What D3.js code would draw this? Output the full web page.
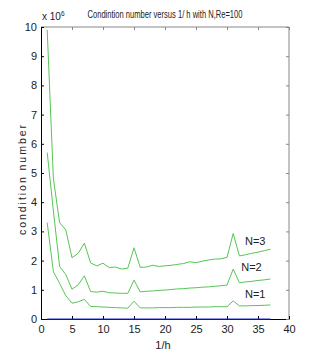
<!DOCTYPE html>
<html><head><meta charset="utf-8">
<script src="https://cdn.jsdelivr.net/npm/d3@7"></script>
<style>body{margin:0;background:#fff}svg{display:block}text{font-family:"Liberation Sans Narrow","Liberation Sans",Arial,sans-serif;fill:#222}</style>
</head><body>
<script>
const xs = d3.range(1, 38);
const n3 = [9.9,4.8,3.3,3.05,2.1,2.25,2.6,1.92,1.82,1.91,1.76,1.78,1.71,1.74,2.44,1.77,1.78,1.84,1.8,1.82,1.84,1.87,1.9,1.96,1.93,1.98,2.02,2.05,2.06,2.11,2.93,2.16,2.2,2.25,2.29,2.34,2.39];
const n2 = [5.7,3.7,1.8,1.52,1.02,1.17,1.48,0.94,0.92,0.95,0.9,0.89,0.88,0.88,1.33,0.93,0.95,0.96,0.98,0.99,1.01,1.03,1.04,1.06,1.07,1.09,1.1,1.12,1.14,1.16,1.71,1.24,1.27,1.29,1.32,1.34,1.37];
const n1 = [3.3,1.62,1.22,0.8,0.54,0.59,0.67,0.43,0.42,0.41,0.4,0.39,0.38,0.37,0.61,0.38,0.38,0.38,0.39,0.39,0.39,0.4,0.4,0.4,0.41,0.41,0.41,0.42,0.42,0.42,0.62,0.45,0.45,0.46,0.46,0.47,0.48];
const series = [{name:"N=3", v:n3}, {name:"N=2", v:n2}, {name:"N=1", v:n1}];
const xTicks = d3.range(0, 41, 5);
const yTicks = d3.range(0, 11, 1);
const title = "Condintion number versus 1/ h with N,Re=100";

const W = 319, H = 360;
const m = {l:41, r:30, t:27, b:41};
const FF = '"Liberation Sans Narrow","Liberation Sans",Arial,sans-serif';
const svg = d3.select("body").append("svg").attr("width", W).attr("height", H);
const x = d3.scaleLinear().domain([0, 40]).range([m.l, W - m.r]);
const y = d3.scaleLinear().domain([0, 10]).range([H - m.b, m.t]);

const g = svg.append("g");
g.append("line").attr("x1", x(0)).attr("x2", x(40)).attr("y1", y(10)).attr("y2", y(10)).attr("stroke", "#888");
g.append("line").attr("x1", x(40)).attr("x2", x(40)).attr("y1", y(0)).attr("y2", y(10)).attr("stroke", "#888");

const tl = 3;
svg.append("g").attr("transform", `translate(0,${y(0)})`)
  .call(d3.axisBottom(x).tickValues(xTicks).tickSize(-tl).tickPadding(6).tickSizeOuter(0));
svg.append("g").attr("transform", `translate(0,${y(10)})`)
  .call(d3.axisTop(x).tickValues(xTicks).tickSize(-tl).tickFormat("").tickSizeOuter(0))
  .call(a => a.select(".domain").remove()).selectAll("line").attr("stroke", "#888");
svg.append("g").attr("transform", `translate(${x(0)},0)`)
  .call(d3.axisLeft(y).tickValues(yTicks).tickSize(-tl).tickPadding(4).tickSizeOuter(0));
svg.append("g").attr("transform", `translate(${x(40)},0)`)
  .call(d3.axisRight(y).tickValues(yTicks).tickSize(-tl).tickFormat("").tickSizeOuter(0))
  .call(a => a.select(".domain").remove()).selectAll("line").attr("stroke", "#888");

svg.selectAll(".tick text").attr("font-size", 11).attr("font-family", FF).attr("fill", "#222");

svg.append("line").attr("x1", x(xs[0])).attr("x2", x(xs[xs.length-1])).attr("y1", y(0)).attr("y2", y(0))
  .attr("stroke", "#2233cc").attr("stroke-width", 1.2);

const line = d3.line().x((d, i) => x(xs[i])).y(d => y(d));
series.forEach(s => {
  svg.append("path").attr("d", line(s.v)).attr("fill", "none").attr("stroke", "#55c655").attr("stroke-width", 1);
});

const lab = [{t:"N=3", x:32.9, y:2.55}, {t:"N=2", x:32.3, y:1.64}, {t:"N=1", x:32.9, y:0.73}];
lab.forEach(l => svg.append("text").attr("x", x(l.x)).attr("y", y(l.y)).attr("font-size", 11).text(l.t));

svg.append("text").attr("x", 165).attr("y", 18).attr("text-anchor", "middle").attr("font-size", 10.5)
  .attr("textLength", 155).attr("lengthAdjust", "spacingAndGlyphs").text(title);
const ex = svg.append("text").attr("x", x(0) + 1).attr("y", 20).attr("font-size", 10);
ex.append("tspan").text("x 10");
ex.append("tspan").attr("font-size", 6.5).attr("dy", -4).text("6");

svg.append("text").attr("transform", `translate(26,180) rotate(-90)`).attr("text-anchor", "middle")
  .attr("font-family", '"Liberation Sans",Arial,sans-serif')
  .attr("font-size", 10.5).attr("textLength", 110).attr("lengthAdjust", "spacing").text("condition number");
svg.append("text").attr("x", 163).attr("y", 349).attr("text-anchor", "middle").attr("font-size", 11).text("1/h");
</script>
</body></html>
